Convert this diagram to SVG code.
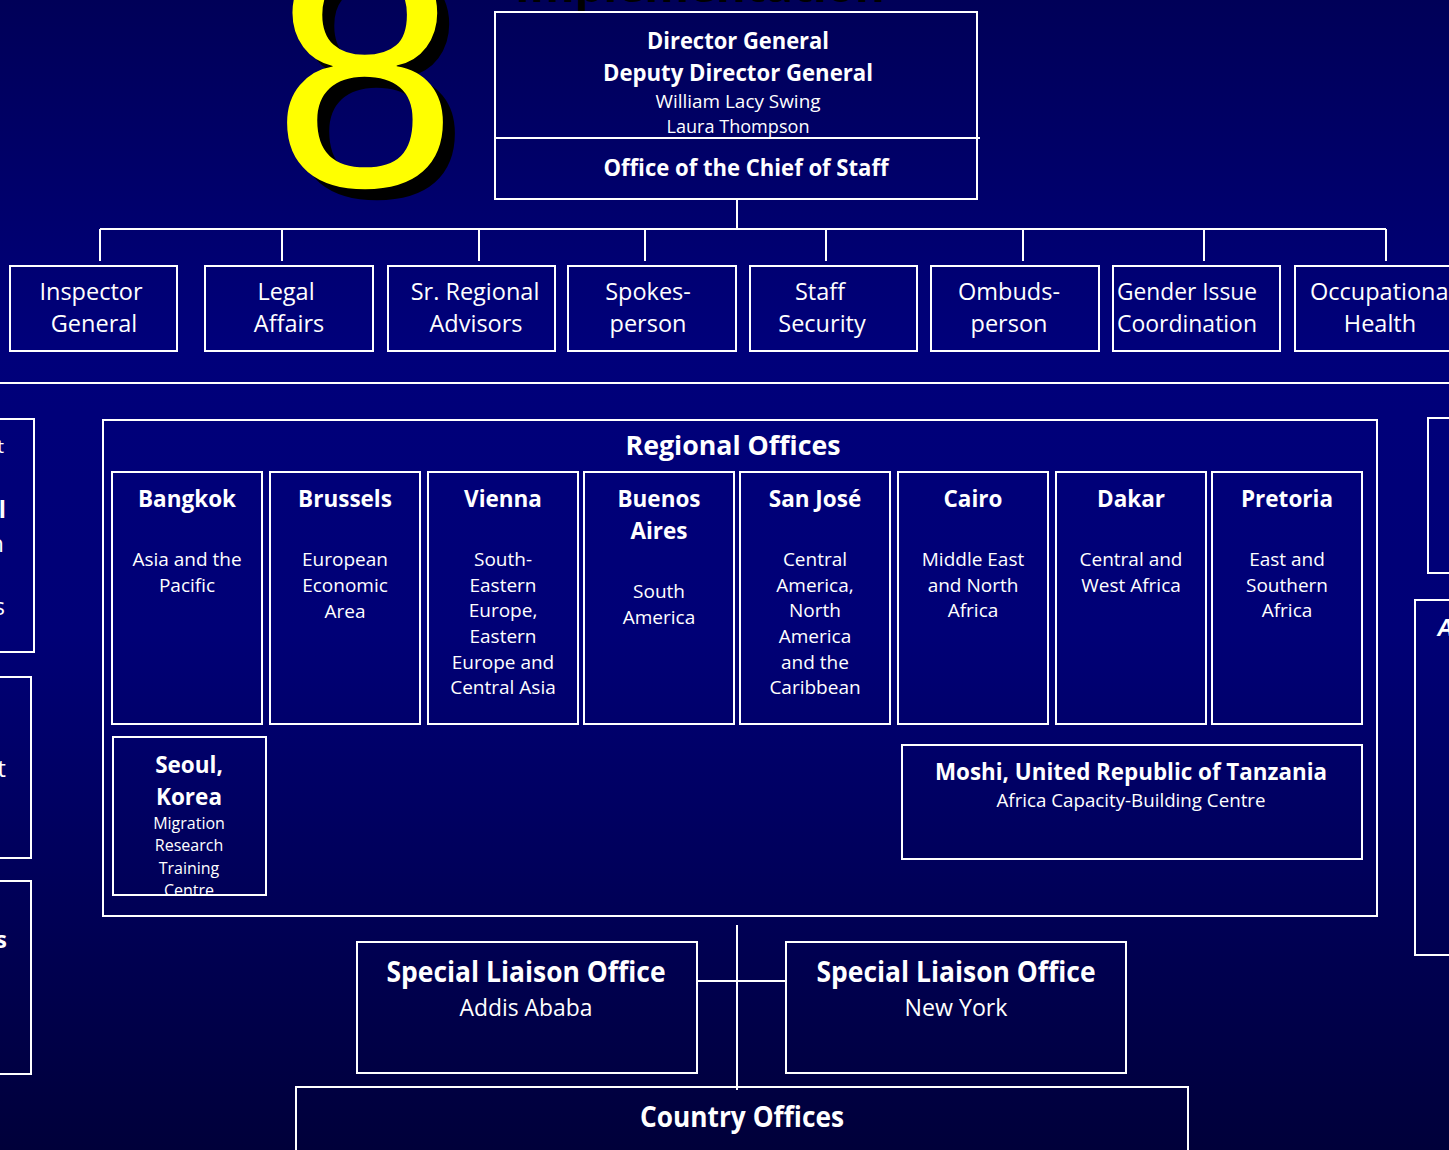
<svg xmlns="http://www.w3.org/2000/svg" width="1449" height="1150" viewBox="0 0 1449 1150">
<defs>
<linearGradient id="bg" x1="0" y1="0" x2="0" y2="1">
<stop offset="0" stop-color="#000058"/>
<stop offset="0.3" stop-color="#00007a"/>
<stop offset="0.55" stop-color="#000076"/>
<stop offset="1" stop-color="#00003a"/>
</linearGradient>
<clipPath id="page"><rect x="0" y="0" width="1449" height="1150"/></clipPath>
</defs>
<style>
.box{fill:none;stroke:#ffffff;stroke-width:2}
.ln{fill:none;stroke:#ffffff;stroke-width:2}
text{font-family:"Open Sans","Noto Sans","DejaVu Sans",sans-serif;fill:#ffffff;text-anchor:middle}
.b{font-weight:bold}
.t24{font-size:23.5px}
.h{font-size:22.5px}
.t19{font-size:19px}
.t16{font-size:16px}
.t28{font-size:28px}
</style>
<rect width="1449" height="1150" fill="url(#bg)"/>

<g id="title">
<text x="700" y="2" class="b" style="font-size:44px;fill:#000000" textLength="370" lengthAdjust="spacingAndGlyphs">Implementation</text>
<text x="377" y="197" style="font-family:'Liberation Sans',Arial,sans-serif;font-size:332px;fill:#000000">8</text>
<text x="365" y="186" style="font-family:'Liberation Sans',Arial,sans-serif;font-size:332px;fill:#ffff00">8</text>
</g>

<g id="connectors">
<line class="ln" x1="737" y1="199" x2="737" y2="229"/>
<line class="ln" x1="100" y1="229" x2="1386" y2="229"/>
<line class="ln" x1="100" y1="229" x2="100" y2="261"/>
<line class="ln" x1="282" y1="229" x2="282" y2="261"/>
<line class="ln" x1="479" y1="229" x2="479" y2="261"/>
<line class="ln" x1="645" y1="229" x2="645" y2="261"/>
<line class="ln" x1="826" y1="229" x2="826" y2="261"/>
<line class="ln" x1="1023" y1="229" x2="1023" y2="261"/>
<line class="ln" x1="1204" y1="229" x2="1204" y2="261"/>
<line class="ln" x1="1386" y1="229" x2="1386" y2="261"/>
<line class="ln" x1="0" y1="383" x2="1449" y2="383"/>
<line class="ln" x1="737" y1="925" x2="737" y2="1090"/>
<line class="ln" x1="697" y1="981" x2="786" y2="981"/>
</g>

<g id="dg">
<rect class="box" x="495" y="12" width="482" height="187"/>
<line class="ln" x1="495" y1="138" x2="980" y2="138"/>
<text x="738" y="49" class="b t24" textLength="182" lengthAdjust="spacingAndGlyphs">Director General</text>
<text x="738" y="81" class="b t24" textLength="270" lengthAdjust="spacingAndGlyphs">Deputy Director General</text>
<text x="738" y="108" class="t19" textLength="165" lengthAdjust="spacingAndGlyphs">William Lacy Swing</text>
<text x="738" y="133" class="t19" textLength="143" lengthAdjust="spacingAndGlyphs">Laura Thompson</text>
<text x="746" y="176" class="b t24" textLength="285" lengthAdjust="spacingAndGlyphs">Office of the Chief of Staff</text>
</g>

<g id="inspector">
<rect class="box" x="10" y="266" width="167" height="85"/>
<text x="91" y="300" class="t24">Inspector</text>
<text x="94" y="332" class="t24">General</text>
</g>
<g id="legal">
<rect class="box" x="205" y="266" width="168" height="85"/>
<text x="286" y="300" class="t24">Legal</text>
<text x="289" y="332" class="t24">Affairs</text>
</g>
<g id="advisors">
<rect class="box" x="388" y="266" width="167" height="85"/>
<text x="475" y="300" class="t24">Sr. Regional</text>
<text x="476" y="332" class="t24">Advisors</text>
</g>
<g id="spokesperson">
<rect class="box" x="568" y="266" width="168" height="85"/>
<text x="648" y="300" class="t24">Spokes-</text>
<text x="648" y="332" class="t24">person</text>
</g>
<g id="security">
<rect class="box" x="750" y="266" width="167" height="85"/>
<text x="820" y="300" class="t24">Staff</text>
<text x="822" y="332" class="t24">Security</text>
</g>
<g id="ombudsperson">
<rect class="box" x="931" y="266" width="168" height="85"/>
<text x="1009" y="300" class="t24">Ombuds-</text>
<text x="1009" y="332" class="t24">person</text>
</g>
<g id="gender">
<rect class="box" x="1113" y="266" width="167" height="85"/>
<text x="1117" y="300" class="t24" style="text-anchor:start" textLength="140" lengthAdjust="spacingAndGlyphs">Gender Issue</text>
<text x="1117" y="332" class="t24" style="text-anchor:start" textLength="140" lengthAdjust="spacingAndGlyphs">Coordination</text>
</g>
<g id="occupational">
<rect class="box" x="1295" y="266" width="170" height="85"/>
<text x="1310" y="300" class="t24" style="text-anchor:start">Occupational</text>
<text x="1380" y="332" class="t24">Health</text>
</g>

<g id="left-partial" clip-path="url(#page)">
<rect class="box" x="-200" y="419" width="234" height="233"/>
<text x="4" y="453" class="t19" style="text-anchor:end">t</text>
<text x="6" y="518" class="b t24" style="text-anchor:end">l</text>
<text x="4" y="552" class="t24" style="text-anchor:end">n</text>
<text x="5" y="615" class="t24" style="text-anchor:end">s</text>
<rect class="box" x="-200" y="677" width="231" height="181"/>
<text x="6" y="777" class="t24" style="text-anchor:end">t</text>
<rect class="box" x="-200" y="881" width="231" height="193"/>
<text x="7" y="948" class="b t24" style="text-anchor:end">s</text>
</g>

<g id="right-partial" clip-path="url(#page)">
<rect class="box" x="1428" y="418" width="200" height="155"/>
<rect class="box" x="1415" y="600" width="200" height="355"/>
<text x="1437" y="636" class="b t24" style="text-anchor:start;font-family:'Liberation Sans',Arial,sans-serif;font-style:italic">A</text>
</g>

<g id="regional">
<rect class="box" x="103" y="420" width="1274" height="496"/>
<text x="733" y="455" class="b" style="font-size:27px" textLength="215" lengthAdjust="spacingAndGlyphs">Regional Offices</text>
</g>

<g id="bangkok">
<rect class="box" x="112" y="472" width="150" height="252"/>
<text x="187" y="507" class="b h">Bangkok</text>
<text x="187" y="566" class="t19">Asia and the</text>
<text x="187" y="592" class="t19">Pacific</text>
</g>
<g id="brussels">
<rect class="box" x="270" y="472" width="150" height="252"/>
<text x="345" y="507" class="b h">Brussels</text>
<text x="345" y="566" class="t19">European</text>
<text x="345" y="592" class="t19">Economic</text>
<text x="345" y="618" class="t19">Area</text>
</g>
<g id="vienna">
<rect class="box" x="428" y="472" width="150" height="252"/>
<text x="503" y="507" class="b h">Vienna</text>
<text x="503" y="566" class="t19">South-</text>
<text x="503" y="592" class="t19">Eastern</text>
<text x="503" y="617" class="t19">Europe,</text>
<text x="503" y="643" class="t19">Eastern</text>
<text x="503" y="669" class="t19">Europe and</text>
<text x="503" y="694" class="t19">Central Asia</text>
</g>
<g id="buenos-aires">
<rect class="box" x="584" y="472" width="150" height="252"/>
<text x="659" y="507" class="b h">Buenos</text>
<text x="659" y="539" class="b h">Aires</text>
<text x="659" y="598" class="t19">South</text>
<text x="659" y="624" class="t19">America</text>
</g>
<g id="san-jose">
<rect class="box" x="740" y="472" width="150" height="252"/>
<text x="815" y="507" class="b h">San José</text>
<text x="815" y="566" class="t19">Central</text>
<text x="815" y="592" class="t19">America,</text>
<text x="815" y="617" class="t19">North</text>
<text x="815" y="643" class="t19">America</text>
<text x="815" y="669" class="t19">and the</text>
<text x="815" y="694" class="t19">Caribbean</text>
</g>
<g id="cairo">
<rect class="box" x="898" y="472" width="150" height="252"/>
<text x="973" y="507" class="b h">Cairo</text>
<text x="973" y="566" class="t19">Middle East</text>
<text x="973" y="592" class="t19">and North</text>
<text x="973" y="617" class="t19">Africa</text>
</g>
<g id="dakar">
<rect class="box" x="1056" y="472" width="150" height="252"/>
<text x="1131" y="507" class="b h">Dakar</text>
<text x="1131" y="566" class="t19">Central and</text>
<text x="1131" y="592" class="t19">West Africa</text>
</g>
<g id="pretoria">
<rect class="box" x="1212" y="472" width="150" height="252"/>
<text x="1287" y="507" class="b h">Pretoria</text>
<text x="1287" y="566" class="t19">East and</text>
<text x="1287" y="592" class="t19">Southern</text>
<text x="1287" y="617" class="t19">Africa</text>
</g>

<g id="seoul">
<rect class="box" x="113" y="737" width="153" height="158"/>
<text x="189" y="773" class="b h">Seoul,</text>
<text x="189" y="805" class="b h">Korea</text>
<text x="189" y="829" class="t16">Migration</text>
<text x="189" y="851" class="t16">Research</text>
<text x="189" y="874" class="t16">Training</text>
<text x="189" y="896" class="t16">Centre</text>
</g>

<g id="moshi">
<rect class="box" x="902" y="745" width="460" height="114"/>
<text x="1131" y="780" class="b t24" textLength="392" lengthAdjust="spacingAndGlyphs">Moshi, United Republic of Tanzania</text>
<text x="1131" y="807" class="t19" textLength="269" lengthAdjust="spacingAndGlyphs">Africa Capacity-Building Centre</text>
</g>

<g id="slo-addis">
<rect class="box" x="357" y="942" width="340" height="131"/>
<text x="526" y="982" class="b t28" textLength="279" lengthAdjust="spacingAndGlyphs">Special Liaison Office</text>
<text x="526" y="1016" class="t24" textLength="133" lengthAdjust="spacingAndGlyphs">Addis Ababa</text>
</g>
<g id="slo-newyork">
<rect class="box" x="786" y="942" width="340" height="131"/>
<text x="956" y="982" class="b t28" textLength="279" lengthAdjust="spacingAndGlyphs">Special Liaison Office</text>
<text x="956" y="1016" class="t24" textLength="103" lengthAdjust="spacingAndGlyphs">New York</text>
</g>

<g id="country">
<rect class="box" x="296" y="1087" width="892" height="80"/>
<text x="742" y="1127" class="b t28" textLength="204" lengthAdjust="spacingAndGlyphs">Country Offices</text>
</g>
</svg>
